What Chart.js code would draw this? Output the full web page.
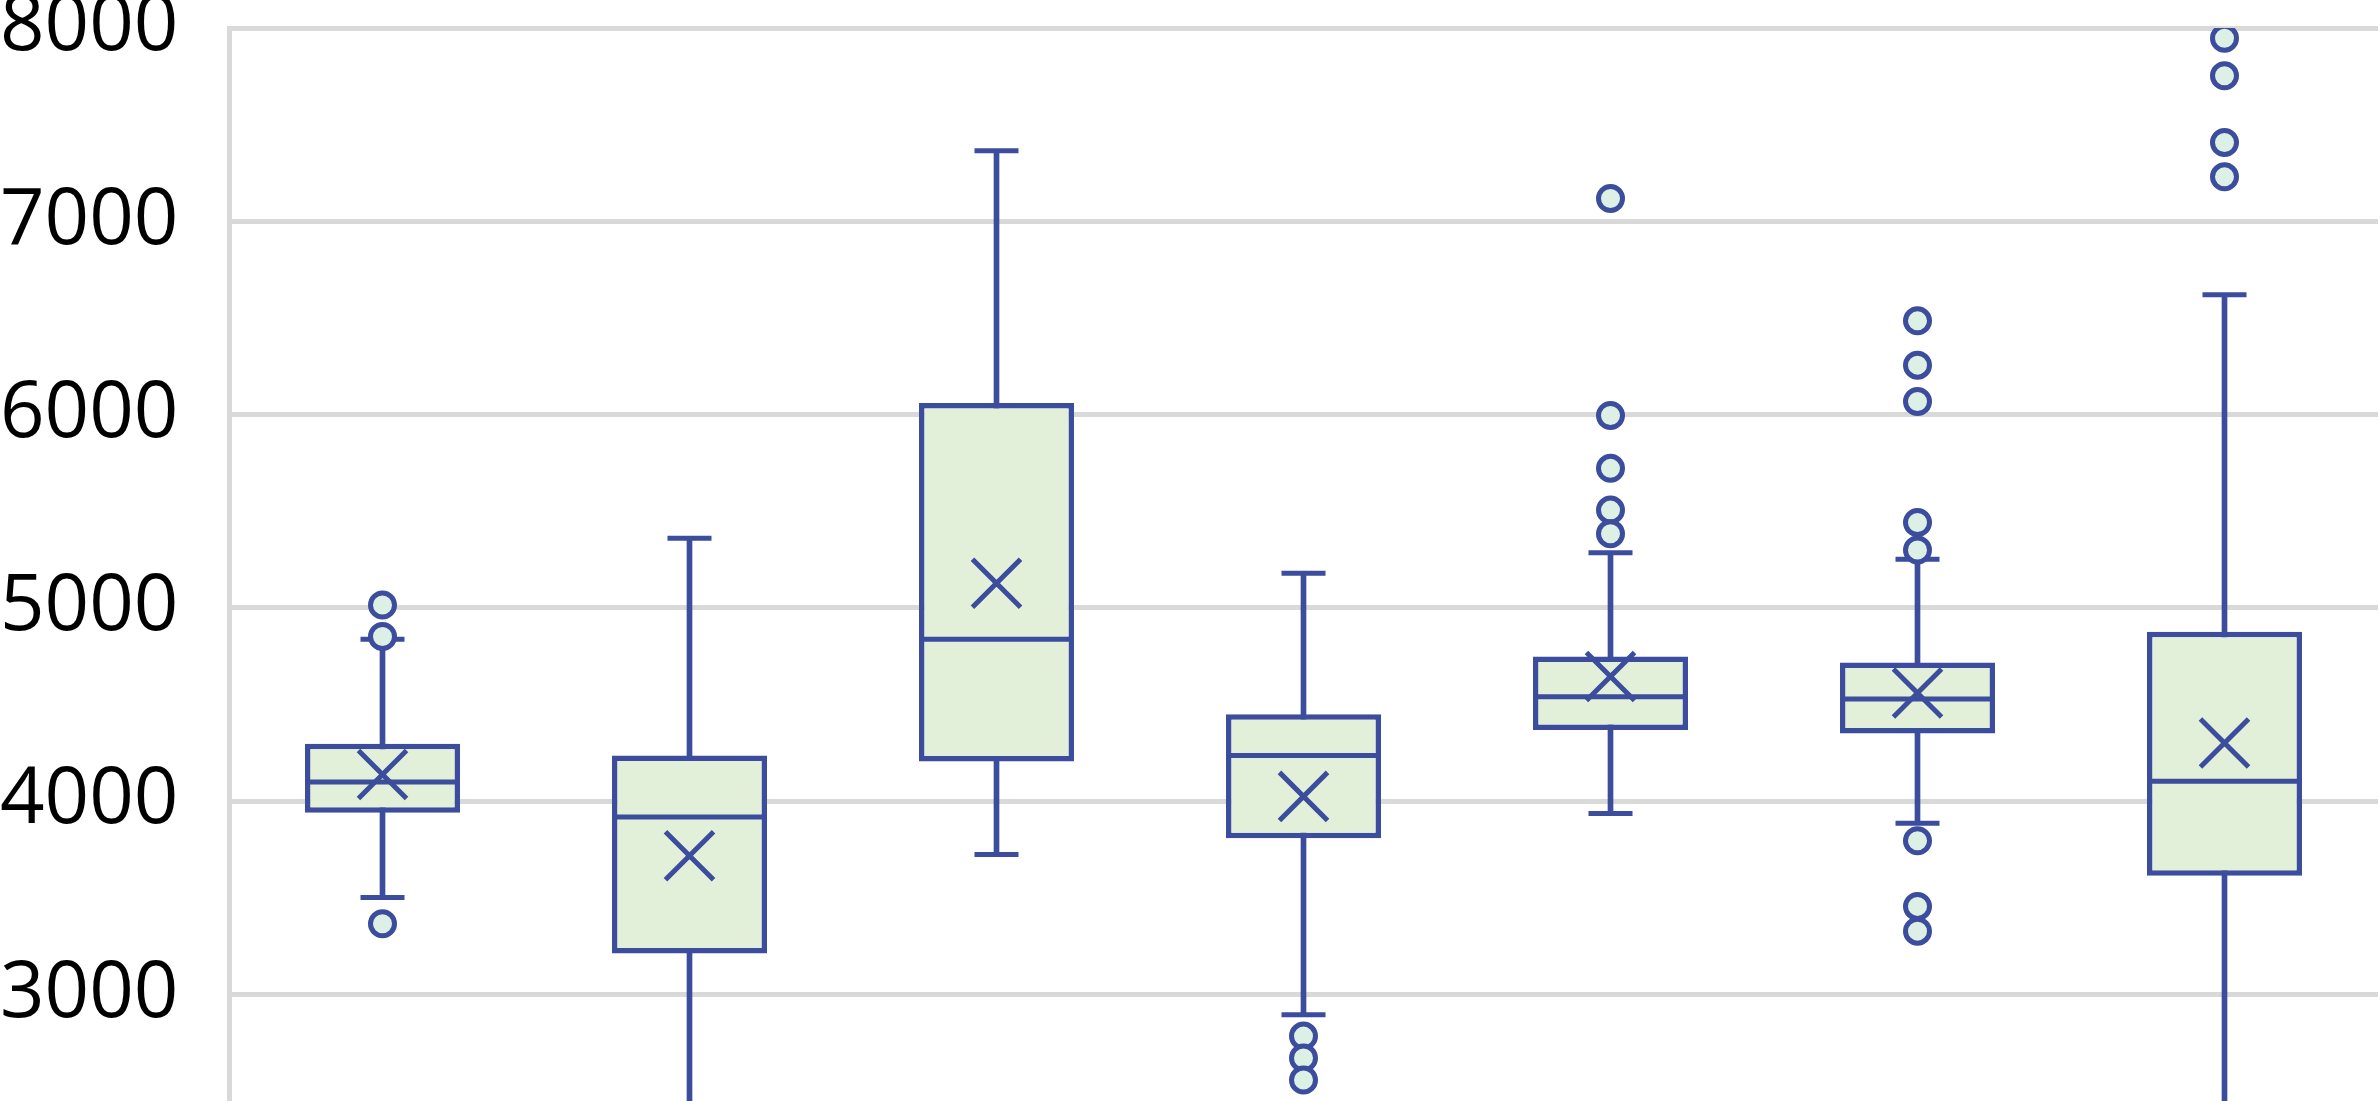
<!DOCTYPE html>
<html>
<head>
<meta charset="utf-8">
<script src="https://cdn.jsdelivr.net/npm/chart.js@4"></script>
<style>
  html, body { margin: 0; padding: 0; background: #fff; }
  #frame { position: relative; width: 2380px; height: 1101px; overflow: hidden; }
  #boxChart { position: absolute; left: 0; top: -40px; }
</style>
</head>
<body>
<div id="frame">
  <canvas id="boxChart" width="2380" height="1236"></canvas>
</div>
<script>
// Box plot values (7 groups)
const categories = ["1", "2", "3", "4", "5", "6", "7"];
const q1 = [3940, 3212, 4205, 3808, 4369, 4351, 3615];
const q3 = [4298, 4236, 6060, 4450, 4749, 4718, 4877];
const medians = [4099, 3918, 4838, 4237, 4540, 4529, 4103];
const means = [4138, 3718, 5128, 4025, 4645, 4560, 4301];
const whiskerLow = [3502, 2100, 3725, 2895, 3936, 3886, 2100];
const whiskerHigh = [4838, 5360, 7365, 5180, 5285, 5252, 6620];
const outliers = [
  [5015, 4852, 3366],
  [],
  [],
  [2785, 2672, 2558],
  [7118, 5995, 5722, 5506, 5384],
  [6485, 6256, 6068, 5442, 5300, 3796, 3456, 3328],
  [7947, 7753, 7408, 7230],
];
const yTicks = [3000, 4000, 5000, 6000, 7000, 8000];

const STROKE = "#3b4d9c";
const BOX_FILL = "#e2f0d9";
const DOT_FILL = "#ddf0e6";
const GRID = "#d9d9d9";

document.addEventListener("DOMContentLoaded", function () {
  initChart();
});

function initChart() {
  const capPoints = categories
    .map((c, i) => ({ x: c, y: whiskerHigh[i] }))
    .concat(categories.map((c, i) => ({ x: c, y: whiskerLow[i] })));

  const outlierPoints = [];
  outliers.forEach((list, i) => {
    list.forEach((v) => outlierPoints.push({ x: categories[i], y: v }));
  });

  const ctx = document.getElementById("boxChart").getContext("2d");
  new Chart(ctx, {
    type: "bar",
    data: {
      labels: categories,
      datasets: [
        {
          // whisker stem, hidden inside the box by the box fill
          label: "whiskers",
          data: categories.map((c, i) => [whiskerLow[i], whiskerHigh[i]]),
          backgroundColor: STROKE,
          borderWidth: 0,
          barThickness: 5,
          order: 6,
        },
        {
          label: "boxes",
          data: categories.map((c, i) => [q1[i], q3[i]]),
          backgroundColor: BOX_FILL,
          borderColor: STROKE,
          borderWidth: 5.5,
          borderSkipped: false,
          barPercentage: 0.505,
          order: 5,
        },
        {
          type: "line",
          label: "median",
          data: medians,
          showLine: false,
          pointStyle: "line",
          pointRadius: 75,
          pointBorderWidth: 5,
          pointBorderColor: STROKE,
          order: 4,
        },
        {
          type: "line",
          label: "caps",
          data: capPoints,
          showLine: false,
          pointStyle: "line",
          pointRadius: 22,
          pointBorderWidth: 5,
          pointBorderColor: STROKE,
          order: 3,
        },
        {
          type: "line",
          label: "mean",
          data: means,
          showLine: false,
          pointStyle: "crossRot",
          pointRadius: 34,
          pointBorderWidth: 5,
          pointBorderColor: STROKE,
          order: 2,
        },
        {
          type: "line",
          label: "outliers",
          data: outlierPoints,
          showLine: false,
          pointStyle: "circle",
          pointRadius: 12,
          pointBorderWidth: 5,
          pointBorderColor: STROKE,
          pointBackgroundColor: DOT_FILL,
          order: 1,
        },
      ],
    },
    options: {
      responsive: false,
      animation: false,
      devicePixelRatio: 1,
      datasets: { bar: { grouped: false, categoryPercentage: 1 } },
      layout: {
        autoPadding: false,
        padding: { top: 68, right: 2, bottom: 0, left: 0 },
      },
      plugins: { legend: { display: false }, tooltip: { enabled: false } },
      scales: {
        x: { display: false, offset: true },
        y: {
          min: 2200,
          max: 8000,
          afterFit: (scale) => {
            scale.width = 229;
          },
          afterBuildTicks: (scale) => {
            scale.ticks = yTicks.map((v) => ({ value: v }));
          },
          grid: { color: GRID, lineWidth: 5, drawTicks: false },
          border: { color: GRID, width: 5 },
          ticks: {
            padding: 0,
            crossAlign: "far",
            color: "#000",
            font: { family: "'Open Sans'", size: 78 },
            callback: (value) => String(value),
          },
        },
      },
    },
  });
}
</script>
</body>
</html>
